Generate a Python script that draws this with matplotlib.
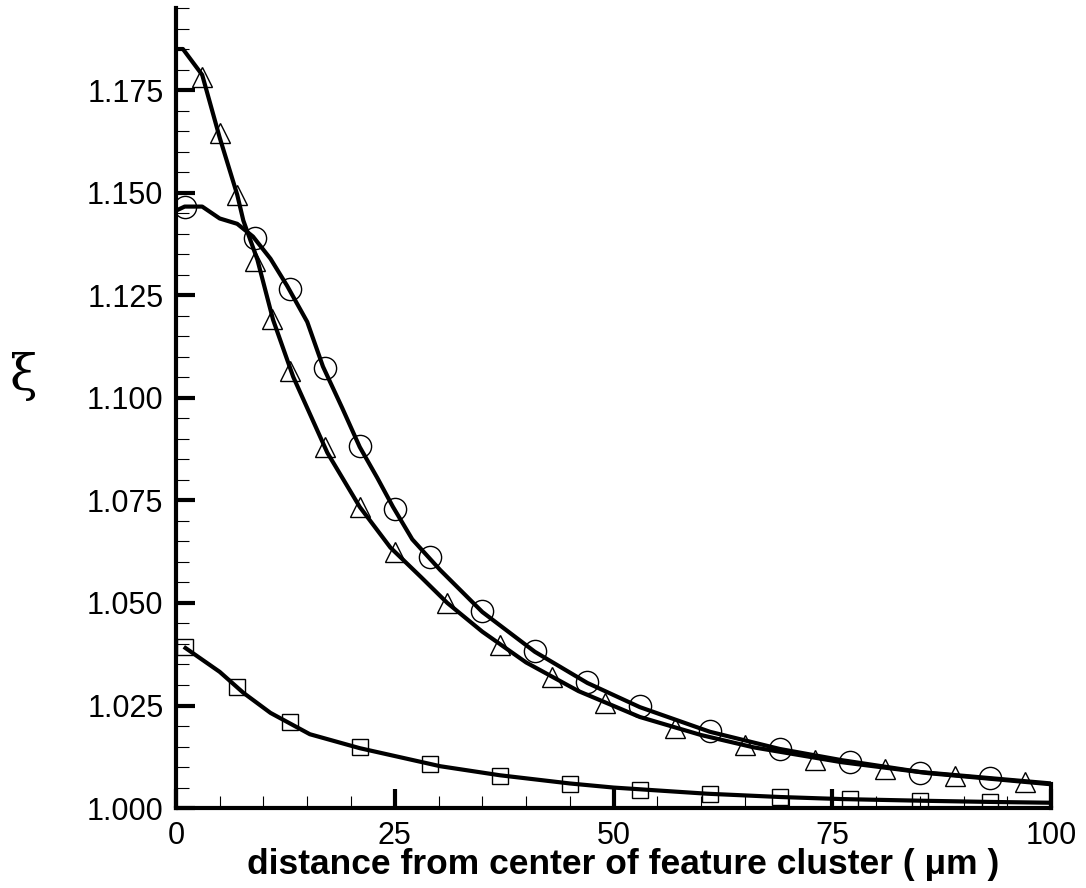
import matplotlib
matplotlib.use('Agg')
import matplotlib.pyplot as plt
from matplotlib.ticker import MultipleLocator, FormatStrFormatter

plt.rcParams['font.family'] = ['Liberation Sans', 'DejaVu Sans']

# markers (symbols)
tri_x = [3, 5, 7, 9, 11, 13, 17, 21, 25, 31, 37, 43, 49, 57, 65, 73, 81, 89, 97]
tri_y = [1.1783, 1.1646, 1.1493, 1.1334, 1.1193, 1.1066, 1.0880, 1.0734, 1.0625, 1.0500,
         1.0398, 1.0320, 1.0256, 1.0195, 1.0154, 1.0118, 1.0095, 1.0078, 1.0063]

cir_x = [1, 9, 13, 17, 21, 25, 29, 35, 41, 47, 53, 61, 69, 77, 85, 93]
cir_y = [1.1466, 1.1390, 1.1264, 1.1073, 1.0883, 1.0729, 1.0612, 1.0480, 1.0383, 1.0307,
         1.0249, 1.0188, 1.0144, 1.0112, 1.0085, 1.0073]

sq_x = [1, 7, 13, 21, 29, 37, 45, 53, 61, 69, 77, 85, 93]
sq_y = [1.0393, 1.0296, 1.0211, 1.0148, 1.0107, 1.0078, 1.0059, 1.0044, 1.0034, 1.0027,
        1.0022, 1.0017, 1.0015]

# solid curves
tri_lx = [0, 0.8, 3, 5, 7, 7.7, 9.3, 11.1, 13.4, 17.3, 21, 24.5, 28, 31, 35, 40, 46, 53,
          60, 66, 76, 86, 100]
tri_ly = [1.185, 1.185, 1.1787, 1.1634, 1.1495, 1.1432, 1.1337, 1.1190, 1.1051, 1.0866,
          1.0734, 1.0635, 1.0563, 1.0500, 1.0430, 1.0355, 1.0285, 1.0222, 1.0178, 1.0148,
          1.0112, 1.0085, 1.0058]

cir_lx = [0, 1, 3, 5, 7, 8.8, 10.8, 12.7, 15, 16.8, 19, 21, 23, 24.8, 27, 30.2, 35, 41,
          47, 53, 61, 69, 76, 85, 93, 100]
cir_ly = [1.1456, 1.1466, 1.1466, 1.1437, 1.1424, 1.1393, 1.1339, 1.1273, 1.1185, 1.1076,
          1.0975, 1.0880, 1.0805, 1.0734, 1.0655, 1.0580, 1.0478, 1.0381, 1.0305, 1.0246,
          1.0186, 1.0144, 1.0117, 1.0088, 1.0073, 1.0060]

sq_lx = [0.9, 5, 7.7, 10.8, 15.3, 21, 30.2, 37, 45, 50, 60.7, 69, 76, 85, 93, 100]
sq_ly = [1.0393, 1.0332, 1.0281, 1.0232, 1.0180, 1.0146, 1.0102, 1.0080, 1.0060, 1.0050,
         1.0035, 1.0027, 1.0022, 1.0018, 1.0015, 1.0013]

fig = plt.figure(figsize=(10.86, 8.88), dpi=100)
ax = fig.add_axes([0.162, 0.090, 0.806, 0.901])

lw = 3.0
ax.plot(tri_lx, tri_ly, color='k', lw=lw, solid_capstyle='butt', zorder=3)
ax.plot(cir_lx, cir_ly, color='k', lw=lw, solid_capstyle='butt', zorder=3)
ax.plot(sq_lx, sq_ly, color='k', lw=lw, solid_capstyle='butt', zorder=3)

ax.plot(tri_x, tri_y, ls='none', marker='^', ms=14.5, mfc='none', mec='k', mew=1.0, zorder=4)
ax.plot(cir_x, cir_y, ls='none', marker='o', ms=16, mfc='none', mec='k', mew=1.0, zorder=4)
ax.plot(sq_x, sq_y, ls='none', marker='s', ms=12, mfc='none', mec='k', mew=1.0, zorder=4)

ax.set_xlim(0, 100)
ax.set_ylim(1.0, 1.195)

ax.spines['top'].set_visible(False)
ax.spines['right'].set_bounds(1.0, 1.0058)
for s in ['left', 'bottom', 'right']:
    ax.spines[s].set_linewidth(3)

ax.xaxis.set_major_locator(MultipleLocator(25))
ax.xaxis.set_minor_locator(MultipleLocator(5))
ax.yaxis.set_major_locator(MultipleLocator(0.025))
ax.yaxis.set_minor_locator(MultipleLocator(0.005))
ax.yaxis.set_major_formatter(FormatStrFormatter('%.3f'))

ax.tick_params(which='major', direction='in', length=14, width=3, labelsize=22, pad=9,
               top=False, right=False)
ax.tick_params(which='minor', direction='in', length=9, width=0.8, top=False, right=False)
ax.tick_params(axis='x', which='major', pad=9)

ax.set_xlabel('distance from center of feature cluster ( \u03bcm )', fontsize=25.5,
              fontweight='bold', va='top')
ax.xaxis.set_label_coords(0.511, -0.050)
ax.set_ylabel('\u03be', fontsize=36, rotation=0, va='center',
              family=['DejaVu Serif'])
ax.yaxis.set_label_coords(-0.174, 0.54)

fig.savefig('out.png', dpi=100)
